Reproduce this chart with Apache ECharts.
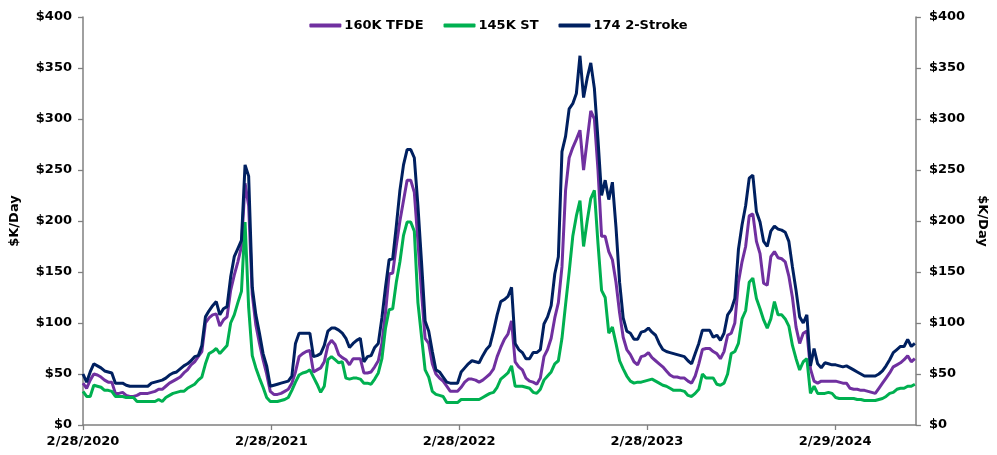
<!DOCTYPE html>
<html>
<head>
<meta charset="utf-8">
<script src="https://cdn.jsdelivr.net/npm/echarts@6/dist/echarts.min.js"></script>
<style>
html,body{margin:0;padding:0;background:#fff;}
#chart{width:997px;height:455px;}
</style>
</head>
<body>
<div id="chart"></div>
<script>
// Weekly series starting 2/28/2020 (one value per week)
const startDate = '2020-02-28';
const weekStepDays = 7;
const seriesNames = ['160K TFDE', '145K ST', '174 2-Stroke'];
const tickLabels = ['2/28/2020', '2/28/2021', '2/28/2022', '2/28/2023', '2/29/2024'];

const tfde160 = [
  41,36,44,50,49,47,44,42,42,31,
  31,32,29,28,28,29,31,31,31,32,
  33,35,35,38,41,43,45,47,51,54,
  59,62,67,72,100,105,108,109,97,103,
  106,132,147,160,175,237,215,128,98,80,
  64,50,33,30,30,31,33,35,41,52,
  67,70,72,73,52,54,56,62,78,83,
  79,69,66,64,59,65,65,65,51,51,
  52,57,63,80,110,148,149,176,200,220,
  240,240,228,180,130,85,80,60,50,46,
  43,38,33,33,33,37,42,45,45,44,
  42,44,47,50,55,67,76,84,89,102,
  62,57,54,46,43,42,40,46,67,74,
  85,105,120,155,230,262,272,280,289,250,
  279,308,300,250,185,185,170,162,140,110,
  86,74,69,62,59,67,68,71,66,63,
  60,57,53,49,47,47,46,46,43,41,
  48,60,74,75,75,72,70,65,72,88,
  90,100,140,160,175,205,207,180,168,139,
  137,165,170,164,163,160,146,125,96,80,
  90,92,55,43,41,43,43,43,43,43,
  42,41,41,36,35,35,34,34,33,32,
  31,36,41,46,51,57,59,61,64,68,
  62,65
];

const st145 = [
  33,28,28,39,38,37,34,34,33,28,
  28,28,27,27,27,23,23,23,23,23,
  23,25,23,27,29,31,32,33,33,36,
  38,40,44,47,60,70,72,75,70,74,
  78,100,108,120,131,199,115,68,56,46,
  37,27,23,23,23,24,25,27,34,42,
  49,51,52,54,47,40,32,38,64,67,
  64,61,62,46,45,46,46,45,41,41,
  40,45,51,65,95,113,114,140,160,186,
  199,199,190,120,87,54,47,33,30,29,
  28,22,22,22,22,25,25,25,25,25,
  25,27,29,31,32,37,45,48,51,58,
  38,38,38,37,36,32,31,35,44,48,
  52,60,63,85,118,150,185,205,220,175,
  200,222,230,178,132,125,90,96,80,63,
  55,48,43,41,42,42,43,44,45,43,
  41,39,38,36,34,34,34,33,29,28,
  31,35,50,46,46,46,40,39,41,50,
  70,72,80,104,112,140,144,124,114,103,
  95,104,121,108,108,104,97,78,65,54,
  62,65,31,38,31,31,31,32,31,27,
  26,26,26,26,26,25,25,24,24,24,
  24,25,26,28,31,32,35,36,36,38,
  38,40
];

const stroke174 = [
  50,42,52,60,58,56,53,52,51,41,
  41,41,39,38,38,38,38,38,38,41,
  42,43,44,46,49,51,52,55,58,60,
  63,67,68,78,106,112,117,121,108,114,
  116,145,165,173,181,255,244,135,108,90,
  70,58,38,39,40,41,42,43,48,80,
  90,90,90,90,67,68,70,78,92,95,
  95,93,90,85,76,80,83,85,62,67,
  68,76,80,105,135,162,163,195,230,255,
  270,270,262,215,160,102,92,72,54,52,
  47,42,41,41,41,52,56,60,63,62,
  61,68,74,78,92,108,121,123,126,135,
  80,74,71,65,65,71,71,74,99,106,
  117,148,165,268,283,310,315,325,362,321,
  340,355,330,280,225,240,221,238,194,140,
  105,92,90,84,84,91,92,95,91,88,
  80,74,72,71,70,69,68,67,63,60,
  70,80,93,93,93,86,88,83,90,108,
  113,124,172,196,215,242,245,209,199,180,
  175,190,195,192,191,189,180,155,132,106,
  100,108,58,75,60,56,61,60,59,59,
  58,57,58,56,54,52,50,48,48,48,
  48,50,53,58,64,71,74,77,77,84,
  77,80
];

const colors = ['#7030A0', '#00B050', '#002060'];
const FONT = '"DejaVu Sans", Verdana, sans-serif';

function dayOffset(label) {
  const p = label.split('/');
  const s = startDate.split('-');
  const t = Date.UTC(+p[2], +p[0] - 1, +p[1]);
  const t0 = Date.UTC(+s[0], +s[1] - 1, +s[2]);
  return Math.round((t - t0) / 86400000);
}
const tickDays = tickLabels.map(dayOffset);
const toPairs = arr => arr.map((v, i) => [i * weekStepDays, v]);

const chart = echarts.init(document.getElementById('chart'), null, {renderer: 'canvas'});

const yAxisCommon = {
  type: 'value', min: 0, max: 400, interval: 50,
  name: '$K/Day', nameLocation: 'middle',
  nameTextStyle: {fontFamily: FONT, fontWeight: 'bold', fontSize: 13, color: '#000'},
  axisLine: {show: true, lineStyle: {color: '#808080', width: 1.5}},
  axisTick: {show: true, inside: false, length: 5, lineStyle: {color: '#808080', width: 1.3}},
  splitLine: {show: false},
  axisLabel: {fontFamily: FONT, fontWeight: 'bold', fontSize: 13, color: '#000',
    formatter: v => '$' + v}
};

chart.setOption({
  animation: false,
  backgroundColor: '#fff',
  grid: {left: 83, right: 81, top: 17, bottom: 30, containLabel: false},
  legend: {
    top: 14, left: 'center',
    icon: 'roundRect',
    itemWidth: 32, itemHeight: 4, itemGap: 20,
    textStyle: {fontFamily: FONT, fontWeight: 'bold', fontSize: 13, color: '#000', padding: [0, 0, 0, -2]},
    data: seriesNames
  },
  xAxis: {
    type: 'value', min: 0, max: 1619,
    axisLine: {show: true, onZero: false, lineStyle: {color: '#808080', width: 1.5}},
    axisTick: {show: true, length: 5, customValues: tickDays, lineStyle: {color: '#808080', width: 1.3}},
    splitLine: {show: false},
    axisLabel: {
      customValues: tickDays, margin: 10,
      fontFamily: FONT, fontWeight: 'bold', fontSize: 13, color: '#000',
      formatter: v => { const i = tickDays.indexOf(Math.round(v)); return i >= 0 ? tickLabels[i] : ''; }
    }
  },
  yAxis: [
    Object.assign({}, yAxisCommon, {position: 'left', nameRotate: 90, nameGap: 62,
      axisLabel: Object.assign({}, yAxisCommon.axisLabel, {margin: 11})}),
    Object.assign({}, yAxisCommon, {position: 'right', nameRotate: -90, nameGap: 58,
      axisLabel: Object.assign({}, yAxisCommon.axisLabel, {margin: 13})})
  ],
  series: [
    {name: seriesNames[0], data: toPairs(tfde160), color: colors[0]},
    {name: seriesNames[1], data: toPairs(st145), color: colors[1]},
    {name: seriesNames[2], data: toPairs(stroke174), color: colors[2]}
  ].map(s => Object.assign({
    type: 'line', symbol: 'none', showSymbol: false, yAxisIndex: 0,
    lineStyle: {width: 3, color: s.color}, itemStyle: {color: s.color}
  }, s))
});
</script>
</body>
</html>
